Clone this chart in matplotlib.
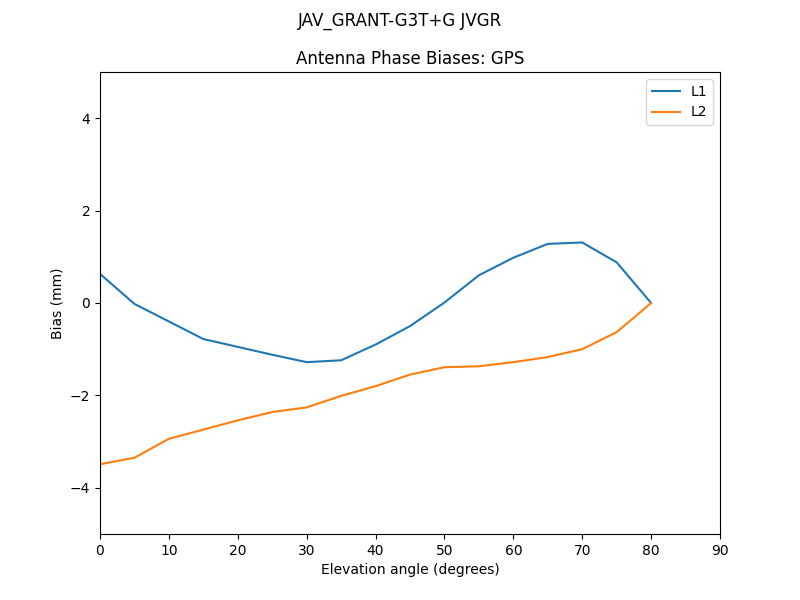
import matplotlib
matplotlib.use("Agg")
import matplotlib.pyplot as plt

elevation = [0, 5, 10, 15, 20, 25, 30, 35, 40, 45, 50, 55, 60, 65, 70, 75, 80]
l1 = [0.63, -0.02, -0.40, -0.78, -0.95, -1.12, -1.28, -1.24, -0.90, -0.50, 0.01, 0.60, 0.98, 1.28, 1.31, 0.88, 0.0]
l2 = [-3.49, -3.35, -2.94, -2.74, -2.54, -2.36, -2.26, -2.01, -1.80, -1.55, -1.39, -1.37, -1.28, -1.17, -1.00, -0.63, 0.0]

fig, ax = plt.subplots(figsize=(8, 6), dpi=100)
ax.plot(elevation, l1, label="L1")
ax.plot(elevation, l2, label="L2")
ax.set_xlim(0, 90)
ax.set_ylim(-5, 5)
ax.set_xticks(range(0, 91, 10))
ax.set_xlabel("Elevation angle (degrees)")
ax.set_ylabel("Bias (mm)")
ax.set_title("Antenna Phase Biases: GPS")
fig.suptitle("JAV_GRANT-G3T+G JVGR")
ax.legend(loc="upper right")
fig.savefig("out.png")
